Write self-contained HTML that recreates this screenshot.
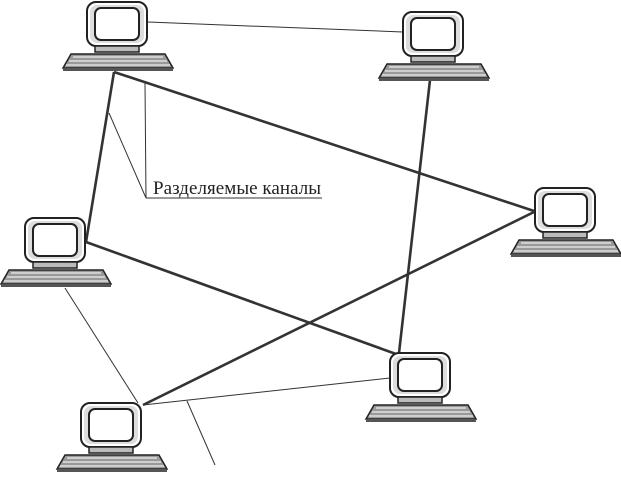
<!DOCTYPE html>
<html><head><meta charset="utf-8"><style>
html,body{margin:0;padding:0;background:#fff;}
svg{display:block;}
</style></head><body>
<svg width="621" height="478" viewBox="0 0 621 478" xmlns="http://www.w3.org/2000/svg">
<defs>
<g id="pc">
  <rect x="0" y="0" width="60" height="44" rx="9" fill="#fff" stroke="#222" stroke-width="2"/>
  <rect x="3" y="3" width="54" height="38" rx="7" fill="#ddd" stroke="none"/>
  <rect x="8" y="6" width="44" height="32" rx="6" fill="#fff" stroke="#222" stroke-width="2"/>
  <rect x="8" y="44" width="44" height="6" fill="#bbb" stroke="#222" stroke-width="1.5"/>
  <path d="M-16 52 L78 52 L86 66 L-24 66 Z" fill="#999" stroke="#222" stroke-width="1.5"/>
  <path d="M-14 55 L76 55 M-18 59 L80 59 M-21 63 L83 63" stroke="#eee" stroke-width="1.2"/>
  <path d="M-24 66 L86 66 L86 69 L-24 69 Z" fill="#555"/>
</g>
</defs>
<g stroke="#333" fill="none">
  <line x1="148" y1="22" x2="403" y2="32" stroke-width="1"/>
  <line x1="65" y1="288" x2="138" y2="403" stroke-width="1"/>
  <line x1="143" y1="405" x2="390" y2="378" stroke-width="1"/>
  <line x1="187" y1="401" x2="215" y2="465" stroke-width="1"/>
  <line x1="145" y1="83" x2="146" y2="198" stroke-width="1"/>
  <line x1="109" y1="113" x2="146" y2="198" stroke-width="1"/>
  <line x1="146" y1="198" x2="322" y2="198" stroke-width="1"/>
  <line x1="114" y1="72" x2="86" y2="242" stroke-width="2.6"/>
  <line x1="114" y1="72" x2="534" y2="211" stroke-width="2.6"/>
  <line x1="430" y1="80" x2="399" y2="353" stroke-width="2.6"/>
  <line x1="86" y1="242" x2="396" y2="354" stroke-width="2.6"/>
  <line x1="534" y1="212" x2="143" y2="405" stroke-width="2.6"/>
</g>
<use href="#pc" x="87" y="2"/>
<use href="#pc" x="403" y="12"/>
<use href="#pc" x="535" y="188"/>
<use href="#pc" x="25" y="218"/>
<use href="#pc" x="390" y="353"/>
<use href="#pc" x="81" y="403"/>
<text x="153" y="194" font-family="Liberation Serif, serif" font-size="19" textLength="168" fill="#222">Разделяемые каналы</text>
</svg>
</body></html>
